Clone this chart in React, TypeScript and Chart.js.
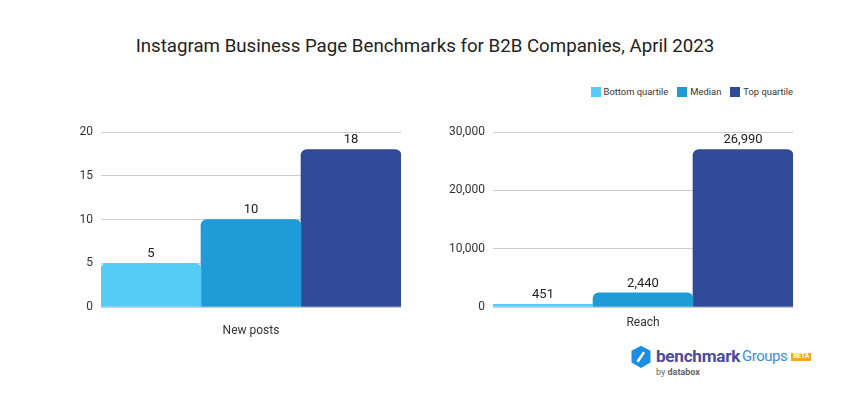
import React, { useEffect, useRef } from "react";
import { Chart, registerables } from "chart.js";

Chart.register(...registerables);

const seriesNames = ["Bottom quartile", "Median", "Top quartile"];
const seriesColors = ["#55CCF5", "#1F9BD7", "#2E4A98"];
const leftCategory = ["New posts"];
const leftValues = [5, 10, 18];
const leftTicks = [0, 5, 10, 15, 20];
const rightCategory = ["Reach"];
const rightValues = [451, 2440, 26990];
const rightTicks = [0, 10000, 20000, 30000];
const titleText = "Instagram Business Page Benchmarks for B2B Companies, April 2023";

const FONT = "Roboto, 'Noto Sans', sans-serif";
const fmt = (v: number) => v.toLocaleString("en-US");

const labelPlugin = {
  id: "barLabels",
  afterDatasetsDraw(chart: any) {
    const ctx = chart.ctx;
    ctx.save();
    ctx.font = `13px ${FONT}`;
    ctx.fillStyle = "#222";
    ctx.textAlign = "center";
    ctx.textBaseline = "bottom";
    chart.data.datasets.forEach((ds: any, i: number) => {
      const meta = chart.getDatasetMeta(i);
      meta.data.forEach((el: any, j: number) => {
        ctx.fillText(fmt(ds.data[j]), el.x, el.y - 3);
      });
    });
    ctx.restore();
  },
};

function SubChart(props: {
  categories: string[];
  values: number[];
  ticks: number[];
  yWidth: number;
  padRight: number;
  xPad: number;
  style: React.CSSProperties;
}) {
  const ref = useRef<HTMLCanvasElement>(null);
  useEffect(() => {
    const { categories, values, ticks, yWidth, padRight, xPad } = props;
    const chart = new Chart(ref.current!, {
      type: "bar",
      data: {
        labels: categories,
        datasets: values.map((v, i) => ({
          label: seriesNames[i],
          data: [v],
          backgroundColor: seriesColors[i],
          borderRadius: 6,
          borderSkipped: "start",
          barPercentage: 1,
          categoryPercentage: 1,
        })),
      },
      options: {
        animation: false,
        responsive: false,
        maintainAspectRatio: false,
        layout: { padding: { top: 31, right: padRight, left: 0, bottom: 0 } },
        plugins: { legend: { display: false }, tooltip: { enabled: false }, title: { display: false } },
        scales: {
          x: {
            grid: { display: false },
            border: { display: false },
            ticks: { color: "#333", font: { family: FONT, size: 12 }, padding: xPad },
            afterFit: (s: any) => { s.height = 39; },
          },
          y: {
            min: ticks[0],
            max: ticks[ticks.length - 1],
            afterBuildTicks: (s: any) => { s.ticks = ticks.map((t) => ({ value: t })); },
            grid: { color: "#CCCCCC", drawTicks: false, lineWidth: 1 },
            border: { display: false },
            ticks: {
              color: "#333",
              font: { family: FONT, size: 12 },
              padding: 8,
              callback: (v: any) => fmt(Number(v)),
            },
            afterFit: (s: any) => { s.width = yWidth; },
          },
        },
      },
      plugins: [labelPlugin],
    });
    return () => chart.destroy();
  }, []);
  return (
    <div style={{ position: "absolute", ...props.style }}>
      <canvas ref={ref} width={props.style.width as number} height={props.style.height as number} />
    </div>
  );
}

export default function App() {
  return (
    <div
      style={{
        position: "fixed",
        left: 0,
        top: 0,
        width: 850,
        height: 400,
        background: "#fff",
        fontFamily: FONT,
        overflow: "hidden",
      }}
    >
      <div
        style={{
          position: "absolute",
          left: 0,
          top: 33,
          width: 850,
          textAlign: "center",
          fontSize: 18.7,
          color: "#222",
          lineHeight: "26px",
        }}
      >
        {titleText}
      </div>
      <div
        style={{
          position: "absolute",
          right: 57,
          top: 86,
          display: "flex",
          alignItems: "center",
          fontSize: 9.4,
          color: "#333",
          lineHeight: "12px",
        }}
      >
        {seriesNames.map((n, i) => (
          <div key={n} style={{ display: "flex", alignItems: "center", marginLeft: i ? 9 : 0 }}>
            <span style={{ width: 10, height: 10, background: seriesColors[i], marginRight: 3, display: "inline-block" }} />
            <span>{n}</span>
          </div>
        ))}
      </div>
      <SubChart
        categories={leftCategory}
        values={leftValues}
        ticks={leftTicks}
        yWidth={101}
        padRight={24}
        xPad={9}
        style={{ left: 0, top: 101, width: 425, height: 245 }}
      />
      <SubChart
        categories={rightCategory}
        values={rightValues}
        ticks={rightTicks}
        yWidth={68}
        padRight={57}
        xPad={1}
        style={{ left: 425, top: 101, width: 425, height: 245 }}
      />
      <div style={{ position: "absolute", left: 631, top: 346, display: "flex", alignItems: "flex-start" }}>
        <svg width="20" height="22" viewBox="0 0 20 22" style={{ marginTop: 0 }}>
          <path d="M10 1 L18.5 5.5 L18.5 16 L10 21 L1.5 16 L1.5 5.5 Z" fill="#1E8FE0" stroke="#1E8FE0" strokeLinejoin="round" strokeWidth="2" />
          <path d="M7 15 L12.5 7" stroke="#fff" strokeWidth="2.4" strokeLinecap="round" />
        </svg>
        <div style={{ marginLeft: 5 }}>
          <div style={{ display: "flex", alignItems: "center", lineHeight: "20px", whiteSpace: "nowrap" }}>
            <span style={{ fontSize: 17.2, fontWeight: 700, color: "#4B4C9B", letterSpacing: -0.3 }}>benchmark</span>
            <span style={{ fontSize: 15, color: "#3A8FDA", marginLeft: 2, letterSpacing: -0.5 }}>Groups</span>
            <span
              style={{
                marginLeft: 4,
                marginTop: 1,
                background: "#F7A823",
                color: "#fff",
                fontSize: 6.5,
                fontWeight: 700,
                padding: "0.5px 2px",
                lineHeight: "7px",
              }}
            >
              BETA
            </span>
          </div>
          <div style={{ fontSize: 9, color: "#666", lineHeight: "11px", marginLeft: 0, marginTop: 1 }}>
            by <span style={{ fontWeight: 700, color: "#666" }}>databox</span>
          </div>
        </div>
      </div>
    </div>
  );
}
